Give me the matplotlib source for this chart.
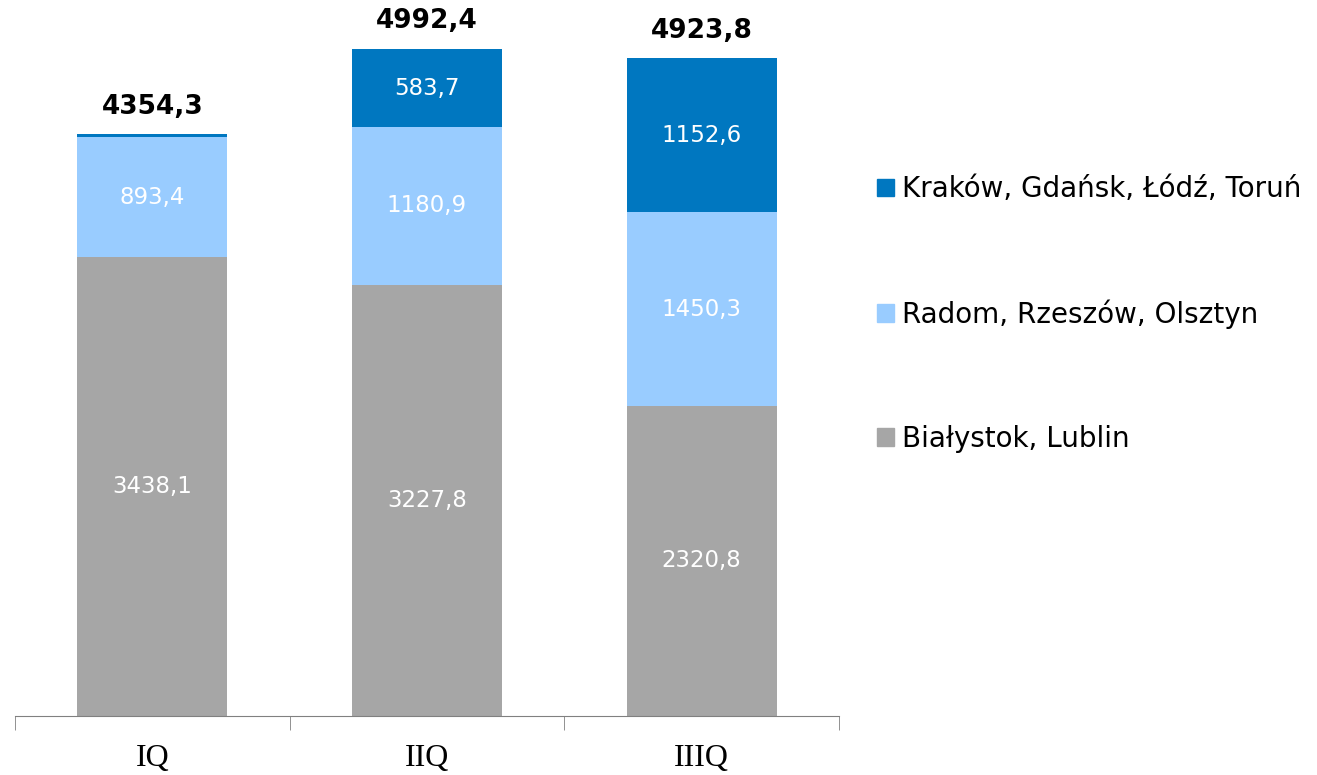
import matplotlib
matplotlib.use("Agg")
import matplotlib.pyplot as plt
from matplotlib.patches import Patch
import numpy as np

categories = ["IQ", "IIQ", "IIIQ"]
bialystok = [3438.1, 3227.8, 2320.8]
radom = [893.4, 1180.9, 1450.3]
krakow = [22.8, 583.7, 1152.6]
totals = [4354.3, 4992.4, 4923.8]
series_names = ["Białystok, Lublin", "Radom, Rzeszów, Olsztyn", "Kraków, Gdańsk, Łódź, Toruń"]
colors = ["#A6A6A6", "#99CCFF", "#0077C0"]

fig = plt.figure(figsize=(13.17, 7.75), dpi=100)
ax = fig.add_axes([15/1317, 59/775, 824/1317, 708/775])

x = np.arange(len(categories))
w = 0.545
bottom = np.zeros(len(categories))
for vals, col, name in zip([bialystok, radom, krakow], colors, series_names):
    vals = np.array(vals)
    ax.bar(x, vals, w, bottom=bottom, color=col, label=name)
    for xi, v, b in zip(x, vals, bottom):
        if v > 100:
            ax.text(xi, b + v / 2, f"{v:.1f}".replace(".", ","), ha="center", va="center",
                    color="white", fontsize=16.5, family="DejaVu Sans")
    bottom += vals

for xi, t in zip(x, totals):
    ax.text(xi, t + 110, f"{t:.1f}".replace(".", ","), ha="center", va="bottom",
            fontsize=19, fontweight="bold", family="DejaVu Sans")

ax.set_xlim(-0.5, 2.5)
ax.set_ylim(0, 5300)
ax.set_yticks([])
for s in ["top", "right", "left"]:
    ax.spines[s].set_visible(False)
ax.spines["bottom"].set_color("#808080")
ax.set_xticks(x)
ax.set_xticklabels(categories, fontsize=23, family="Liberation Serif")
ax.tick_params(axis="x", which="major", length=0, pad=20)
ax.set_xticks([-0.5, 0.5, 1.5, 2.5], minor=True)
ax.tick_params(axis="x", which="minor", length=10, color="#808080", direction="out")

handles = [Patch(color=c) for c in colors][::-1]
labels = series_names[::-1]
leg = fig.legend(handles, labels, loc="center left", bbox_to_anchor=(866/1317, 1 - 314/775),
                 frameon=False, handlelength=0.6, handleheight=0.6,
                 handletextpad=0.3, labelspacing=3.45, borderaxespad=0,
                 prop={"family": "DejaVu Sans", "size": 20})

fig.savefig("out.png", dpi=100)
